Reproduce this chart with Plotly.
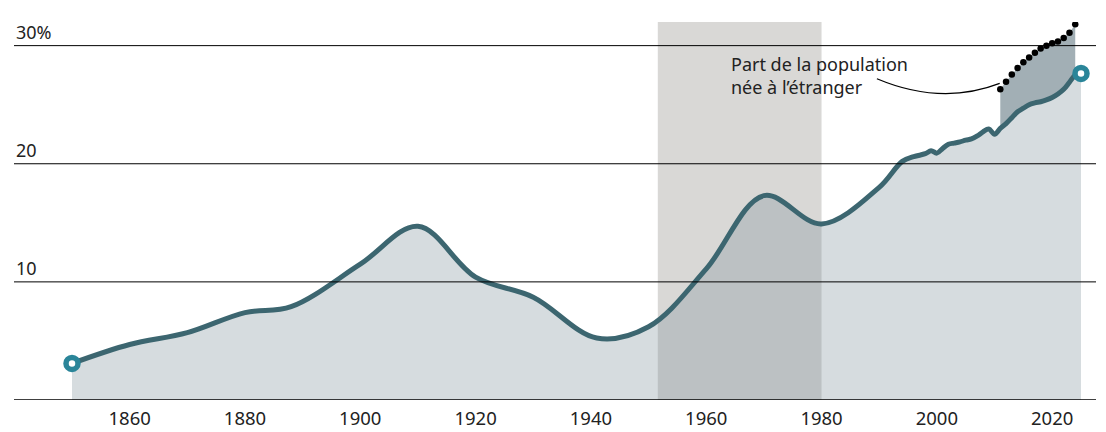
import plotly.graph_objects as go

# Main series: share (%)
years = [1850, 1860, 1870, 1880, 1888, 1900, 1910, 1920, 1930, 1941, 1950, 1960, 1970, 1980,
         1990, 1994, 1996, 1998, 1999, 2000, 2001, 2002, 2003, 2004, 2005, 2006, 2007, 2008,
         2009, 2010, 2011, 2012, 2013, 2014, 2015, 2016, 2017, 2018, 2019, 2020, 2021, 2022,
         2023, 2024, 2025]
share = [3.1, 4.7, 5.7, 7.4, 7.9, 11.5, 14.7, 10.4, 8.7, 5.25, 6.2, 11.1, 17.3, 14.9,
         18.0, 20.2, 20.6, 20.85, 21.1, 20.9, 21.3, 21.65, 21.75, 21.85, 22.0, 22.1, 22.35, 22.7,
         22.95, 22.5, 23.0, 23.4, 23.9, 24.4, 24.7, 25.0, 25.15, 25.25, 25.4, 25.6, 25.9, 26.3,
         26.9, 27.5, 27.65]

# Foreign-born share (dotted)
born_years = [2011, 2012, 2013, 2014, 2015, 2016, 2017, 2018, 2019, 2020, 2021, 2022, 2023, 2024]
born_share = [26.3, 26.95, 27.55, 28.1, 28.6, 29.0, 29.4, 29.75, 30.0, 30.2, 30.35, 30.65, 31.1, 31.8]

# Highlighted period
band_period = [1951.6, 1980]

x_ticks = [1860, 1880, 1900, 1920, 1940, 1960, 1980, 2000, 2020]
y_ticks = [10, 20, 30]
y_tick_text = ["10", "20", "30%"]

annot_text = "Part de la population<br>née à l’étranger"

FONT = "Noto Sans"
LINE_COLOR = "#3c6670"
RING_COLOR = "#2a8599"

fig = go.Figure()

# light area under the main line
fig.add_trace(go.Scatter(
    x=years, y=share, mode="none", fill="tozeroy", line_shape="spline",
    fillcolor="rgba(127,146,155,0.32)", hoverinfo="skip", showlegend=False))

# dark area between foreign-born dotted line and main line
main_lookup = dict(zip(years, share))
poly_x = born_years + born_years[::-1]
poly_y = born_share + [main_lookup[y] for y in born_years[::-1]]
fig.add_trace(go.Scatter(
    x=poly_x, y=poly_y, mode="none", fill="toself",
    fillcolor="#a2afb5", hoverinfo="skip", showlegend=False))

# main line
fig.add_trace(go.Scatter(
    x=years, y=share, mode="lines", line=dict(color=LINE_COLOR, width=5, shape="spline"),
    hoverinfo="skip", showlegend=False))

# dotted foreign-born series
fig.add_trace(go.Scatter(
    x=born_years, y=born_share, mode="markers",
    marker=dict(color="black", size=6.5), hoverinfo="skip", showlegend=False))

# end markers
fig.add_trace(go.Scatter(
    x=[years[0], years[-1]], y=[share[0], share[-1]], mode="markers",
    marker=dict(symbol="circle", size=12, color="white", line=dict(color=RING_COLOR, width=5.5)),
    hoverinfo="skip", showlegend=False, cliponaxis=False))

shapes = [
    dict(type="rect", xref="x", yref="paper", x0=band_period[0], x1=band_period[1], y0=0, y1=1,
         fillcolor="#d9d8d6", line=dict(width=0), layer="below"),
]
for v in y_ticks:
    shapes.append(dict(type="line", xref="paper", yref="y", x0=0, x1=1, y0=v, y1=v,
                       line=dict(color="black", width=1), layer="above"))
shapes.append(dict(type="line", xref="paper", yref="y", x0=0, x1=1, y0=0, y1=0,
                   line=dict(color="black", width=1.6), layer="above"))
# leader curve of the annotation
shapes.append(dict(type="path", xref="x", yref="y",
                   path="M 1989.6,27.2 Q 2000.8,24.9 2010.9,26.8",
                   line=dict(color="black", width=1.2), layer="above"))

annotations = []
for v, t in zip(y_ticks, y_tick_text):
    annotations.append(dict(x=0, xref="paper", y=v, yref="y", text=t, showarrow=False,
                            xanchor="left", yanchor="bottom", yshift=0,
                            font=dict(family=FONT, size=18, color="#222")))
annotations.append(dict(x=1963.9, xref="x", y=27.45, yref="y", text=annot_text, showarrow=False,
                        xanchor="left", yanchor="middle", align="left",
                        font=dict(family=FONT, size=18, color="#222")))

fig.update_layout(
    width=1090, height=420,
    margin=dict(l=6, r=2, t=14, b=28, autoexpand=False),
    paper_bgcolor="white", plot_bgcolor="white",
    shapes=shapes, annotations=annotations,
    xaxis=dict(range=[1839.94, 2027.6], tickvals=x_ticks, showgrid=False, zeroline=False,
               showline=False, ticks="", ticklabelstandoff=5, automargin=False,
               tickfont=dict(family=FONT, size=18.5, color="#222")),
    yaxis=dict(range=[0, 32], showgrid=False, zeroline=False, showticklabels=False,
               showline=False, ticks="", automargin=False),
)

fig.write_html("out.html")
